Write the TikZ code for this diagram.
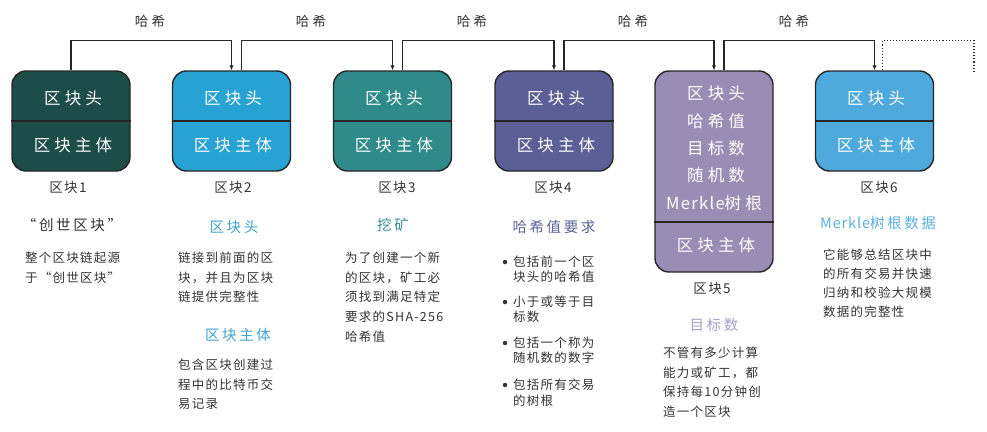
\documentclass[tikz,border=0pt]{standalone}
\usepackage{fontspec}
\setmainfont{Noto Sans CJK SC}
\newfontfamily\fBody[LetterSpace=10]{Noto Sans CJK SC}
\newfontfamily\fBlock[LetterSpace=25]{Noto Sans CJK SC}
\newfontfamily\fHead[LetterSpace=18]{Noto Sans CJK SC}
\usetikzlibrary{arrows.meta}
\definecolor{cA}{HTML}{1C4D48}
\definecolor{cB}{HTML}{28A2D3}
\definecolor{cC}{HTML}{2E8B89}
\definecolor{cD}{HTML}{5A5F95}
\definecolor{cE}{HTML}{998DB5}
\definecolor{cF}{HTML}{4EA9DD}
\definecolor{edge}{HTML}{262626}
\definecolor{txt}{HTML}{333333}
\definecolor{hB}{HTML}{3EA3CF}
\definecolor{hC}{HTML}{3B8F8C}
\definecolor{hD}{HTML}{5D6396}
\definecolor{hE}{HTML}{A79FC6}
\definecolor{hF}{HTML}{5AAEE0}
\tikzset{
  blockbox/.style={draw=edge, line width=1.4pt, rounded corners=14pt, minimum width=118pt, inner sep=0pt},
  divider/.style={draw=edge, line width=1.4pt},
  intext/.style={text=white, font=\fBlock\fontsize{16.5}{20}\selectfont, inner sep=0pt},
  link/.style={draw=edge, line width=1.2pt, -{Latex[length=5pt,width=4.5pt]}},
  dotlink/.style={draw=edge, line width=1.1pt, dotted},
  hashlbl/.style={text=txt, font=\fBlock\fontsize{13.5}{16}\selectfont, inner sep=0pt},
  blbl/.style={text=txt, font=\fBody\fontsize{13.5}{16}\selectfont, inner sep=0pt},
  headtxt/.style={font=\fHead\fontsize{14.5}{18}\selectfont, inner sep=0pt},
  bodytxt/.style={text=txt, font=\fBody\fontsize{12.5}{19.7}\selectfont, align=left, anchor=north west, inner sep=0pt},
  itemtxt/.style={text=txt, font=\fBody\fontsize{12.5}{15.5}\selectfont, align=left, anchor=north west, inner sep=0pt},
  bulletdot/.style={circle, fill=txt, minimum size=4.5pt, inner sep=0pt},
}
\begin{document}
\begin{tikzpicture}[x=1pt,y=-1pt]
\useasboundingbox (0,0) rectangle (987,431);
% blocks
\node[blockbox, fill=cA, minimum height=100pt] (b1) at (71,121) {};
\node[blockbox, fill=cB, minimum height=100pt] (b2) at (231.5,121) {};
\node[blockbox, fill=cC, minimum height=100pt] (b3) at (392.5,121) {};
\node[blockbox, fill=cD, minimum height=100pt] (b4) at (554,121) {};
\node[blockbox, fill=cE, minimum height=201pt] (b5) at (714,171.5) {};
\node[blockbox, fill=cF, minimum height=100pt] (b6) at (874.5,121) {};
% dividers
\draw[divider] (b1.west |- 0,121) -- (b1.east |- 0,121);
\draw[divider] (b2.west |- 0,121) -- (b2.east |- 0,121);
\draw[divider] (b3.west |- 0,121) -- (b3.east |- 0,121);
\draw[divider] (b4.west |- 0,121) -- (b4.east |- 0,121);
\draw[divider] (b5.west |- 0,222) -- (b5.east |- 0,222);
\draw[divider] (b6.west |- 0,121) -- (b6.east |- 0,121);
% block texts
\node[intext] (t1h) at (73,98) {区块头};
\node[intext] (t1b) at (73,145) {区块主体};
\node[intext] (t2h) at (233,98) {区块头};
\node[intext] (t2b) at (233,145) {区块主体};
\node[intext] (t3h) at (394,98) {区块头};
\node[intext] (t3b) at (394,145) {区块主体};
\node[intext] (t4h) at (556,98) {区块头};
\node[intext] (t4b) at (556,145) {区块主体};
\node[intext] (t5a) at (716,93) {区块头};
\node[intext] (t5b) at (716,121) {哈希值};
\node[intext] (t5c) at (716,148) {目标数};
\node[intext] (t5d) at (716,175) {随机数};
\node[intext] (t5e) at (714,203) {{\addfontfeature{LetterSpace=8}Merkle}树根};
\node[intext] (t5f) at (716,245) {区块主体};
\node[intext] (t6h) at (876,98) {区块头};
\node[intext] (t6b) at (876,145) {区块主体};
% connectors
\draw[link] (b1.north) -- ++(0,-30) -| (b2.north);
\draw[link] ([xshift=10pt]b2.north) -- ++(0,-30) -| (b3.north);
\draw[link] ([xshift=10pt]b3.north) -- ++(0,-30) -| (b4.north);
\draw[link] ([xshift=10pt]b4.north) -- ++(0,-30) -| (b5.north);
\draw[link] ([xshift=10pt]b5.north) -- ++(0,-30) -| (b6.north);
\coordinate (dend) at (974,72);
\draw[dotlink] ([xshift=8pt]b6.north) -- ++(0,-30) -| (dend);
% hash labels
\node[hashlbl] (h1) at (150,21) {哈希};
\node[hashlbl] (h2) at (311,21) {哈希};
\node[hashlbl] (h3) at (472,21) {哈希};
\node[hashlbl] (h4) at (633,21) {哈希};
\node[hashlbl] (h5) at (794,21) {哈希};
% block labels
\node[blbl] (l1) at (68,187) {区块1};
\node[blbl] (l2) at (233,187) {区块2};
\node[blbl] (l3) at (397,187) {区块3};
\node[blbl] (l4) at (553,187) {区块4};
\node[blbl] (l5) at (712,288) {区块5};
\node[blbl] (l6) at (879,187) {区块6};
% column 1
\node[headtxt, text=txt] (g1) at (72,225) {“创世区块”};
\node[bodytxt] (x1) at (25,251.7) {整个区块链起源\\于“创世区块”};
% column 2
\node[headtxt, text=hB] (g2) at (234,227) {区块头};
\node[bodytxt] (x2) at (178,251.7) {链接到前面的区\\块，并且为区块\\链提供完整性};
\node[headtxt, text=hB] (g2b) at (238,335) {区块主体};
\node[bodytxt] (x2b) at (178,358.7) {包含区块创建过\\程中的比特币交\\易记录};
% column 3
\node[headtxt, text=hC] (g3) at (393,225) {挖矿};
\node[bodytxt] (x3) at (345,251.7) {为了创建一个新\\的区块，矿工必\\须找到满足特定\\要求的SHA-256\\哈希值};
% column 4
\node[headtxt, text=hD] (g4) at (554,227) {哈希值要求};
\node[bulletdot] (d1) at (505,262) {};
\node[bulletdot] (d2) at (505,302) {};
\node[bulletdot] (d3) at (505,343) {};
\node[bulletdot] (d4) at (505,385) {};
\node[itemtxt] (i1) at (513,255.7) {包括前一个区\\块头的哈希值};
\node[itemtxt] (i2) at (513,295.7) {小于或等于目\\标数};
\node[itemtxt] (i3) at (513,336.7) {包括一个称为\\随机数的数字};
\node[itemtxt] (i4) at (513,378.7) {包括所有交易\\的树根};
% column 5
\node[headtxt, text=hE] (g5) at (714,325) {目标数};
\node[bodytxt] (x5) at (663,346.7) {不管有多少计算\\能力或矿工，都\\保持每10分钟创\\造一个区块};
% column 6
\node[headtxt, text=hF] (g6) at (878,223) {{\addfontfeature{LetterSpace=6}Merkle}树根数据};
\node[bodytxt, font=\fBody\fontsize{12.5}{19}\selectfont] (x6) at (823,248.7) {它能够总结区块中\\的所有交易并快速\\归纳和校验大规模\\数据的完整性};
\end{tikzpicture}
\end{document}
